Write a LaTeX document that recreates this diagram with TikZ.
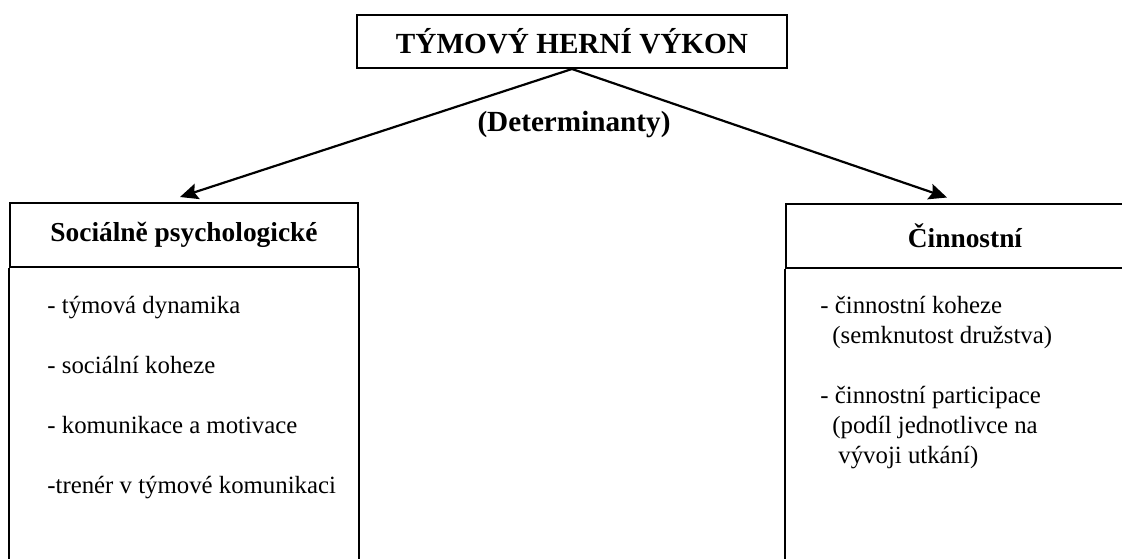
\documentclass[tikz,border=0pt]{standalone}
\usepackage{fontspec}
\setmainfont{Liberation Serif}
\usetikzlibrary{arrows.meta}
\begin{document}
\begin{tikzpicture}[x=0.5pt, y=-0.5pt,
    hlava/.style={draw, line width=1pt, inner sep=0pt, minimum height=32pt,
      font=\fontsize{13.7}{16}\selectfont\bfseries},
    polozka/.style={anchor=base west, inner sep=0pt, font=\fontsize{12.4}{15}\selectfont},
    sipka/.style={-{Stealth[length=9pt,width=8pt,inset=1.5pt]}, line width=1.1pt}]
  \useasboundingbox (0,0) rectangle (1122,558);
  \node[draw, line width=1pt, minimum width=215pt, minimum height=26.5pt, inner sep=0pt,
    font=\fontsize{14.6}{17}\selectfont\bfseries] (vykon) at (572,41.5) {TÝMOVÝ HERNÍ VÝKON};
  \node[font=\fontsize{14.6}{17}\selectfont\bfseries, anchor=base, inner sep=0pt]
    (determ) at (574,131.5) {(Determinanty)};
  \node[hlava, minimum width=174pt] (soc) at (184,235) {Sociálně psychologické};
  \node[hlava, minimum width=179pt] (cin) at (965,235.5) {Činnostní};
  \draw[line width=1pt] (soc.south west) -- ++(0,300);
  \draw[line width=1pt] (soc.south east) -- ++(0,300);
  \draw[line width=1pt] (cin.south west) -- ++(0,300);
  \draw[sipka] (vykon.south) -- ([xshift=-2pt, yshift=2.5pt]soc.north);
  \draw[sipka] (vykon.south) -- ([xshift=-9pt, yshift=2.5pt]cin.north);
  \node[polozka] (soc1) at (47,313) {- týmová dynamika};
  \node[polozka] (soc2) at (47,373) {- sociální koheze};
  \node[polozka] (soc3) at (47,433) {- komunikace a motivace};
  \node[polozka] (soc4) at (47,493) {-trenér v týmové komunikaci};
  \node[polozka] (cin1) at (820,313) {- činnostní koheze};
  \node[polozka] (cin1b) at (832,343) {(semknutost družstva)};
  \node[polozka] (cin2) at (820,403) {- činnostní participace};
  \node[polozka] (cin2b) at (832,433) {(podíl jednotlivce na};
  \node[polozka] (cin2c) at (838,463) {vývoji utkání)};
\end{tikzpicture}
\end{document}
